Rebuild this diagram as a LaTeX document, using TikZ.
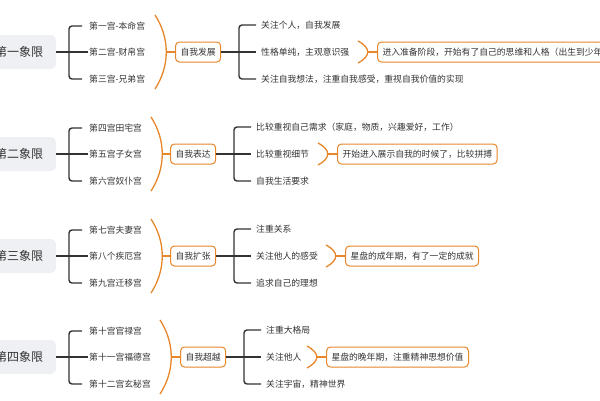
\documentclass[tikz,border=0pt]{standalone}
\usepackage{fontspec}
\setmainfont{Noto Sans CJK SC}
\definecolor{orng}{HTML}{E8862A}
\definecolor{ink}{HTML}{333333}
\definecolor{rootgray}{HTML}{EEF0F3}
\tikzset{
  root/.style={fill=rootgray,rounded corners=5pt,minimum width=74pt,minimum height=34pt,font=\fontsize{12}{14}\selectfont,text=ink},
  leaf/.style={anchor=west,inner sep=1pt,font=\fontsize{8.8}{10}\selectfont,text=ink},
  obox/.style={draw=orng,line width=1pt,rounded corners=4pt,fill=white,anchor=west,inner xsep=5pt,minimum height=20pt,font=\fontsize{8.8}{10}\selectfont,text=ink},
  dark/.style={draw=ink,line width=1.4pt},
  orngline/.style={draw=orng,line width=1.3pt}
}
\begin{document}
\begin{tikzpicture}[x=1pt,y=-1pt]
\useasboundingbox (0,0) rectangle (600,400);
\clip (0,0) rectangle (600,400);
\foreach \y/\nm/\pa/\pb/\pc/\ax/\bx/\bl/\ia/\ib/\ic/\px/\note [count=\i] in {
  52/第一象限/第一宫-本命宫/第二宫-财帛宫/第三宫-兄弟宫/155/175/自我发展/关注个人，自我发展/性格单纯，主观意识强/关注自我想法，注重自我感受，重视自我价值的实现/358/进入准备阶段，开始有了自己的思维和人格（出生到少年时期）,
  154/第二象限/第四宫田宅宫/第五宫子女宫/第六宫奴仆宫/151/170/自我表达/比较重视自己需求（家庭，物质，兴趣爱好，工作）/比较重视细节/自我生活要求/318/开始进入展示自我的时候了，比较拼搏,
  256/第三象限/第七宫夫妻宫/第八个疾厄宫/第九宫迁移宫/151/170/自我扩张/注重关系/关注他人的感受/追求自己的理想/326/星盘的成年期，有了一定的成就,
  357/第四象限/第十宫官禄宫/第十一宫福德宫/第十二宫玄秘宫/160/180/自我超越/注重大格局/关注他人/关注宇宙，精神世界/307/星盘的晚年期，注重精神思想价值}
{
  \node[root] (r\i) at (19,\y) {\nm};
  \node[leaf] (pa\i) at (88,\y-26) {\pa};
  \node[leaf] (pb\i) at (88,\y) {\pb};
  \node[leaf] (pc\i) at (88,\y+27) {\pc};
  \draw[dark] (56,\y) -- (pb\i.west);
  \draw[dark,rounded corners=3pt] ([xshift=-6pt]pa\i.west) -- (69,\y-26) -- (69,\y+27) -- ([xshift=-6pt]pc\i.west);
  \draw[orngline] (\ax,\y-37) .. controls (\ax+15,\y-14) and (\ax+15,\y+14) .. (\ax,\y+37);
  \node[obox] (b\i) at (\bx,\y) {\bl};
  \draw[orngline] (\ax+11,\y) -- (b\i.west);
  \node[leaf] (ia\i) at (\bx+85,\y-27) {\ia};
  \node[leaf] (ib\i) at (\bx+85,\y) {\ib};
  \node[leaf] (ic\i) at (\bx+85,\y+27) {\ic};
  \draw[dark] (b\i.east) -- ([xshift=-4pt]ib\i.west);
  \draw[dark,rounded corners=3pt] ([xshift=-4pt]ia\i.west) -- (\bx+64,\y-27) -- (\bx+64,\y+27) -- ([xshift=-4pt]ic\i.west);
  \draw[orngline] (\px,\y-11) .. controls (\px+13,\y-4) and (\px+13,\y+4) .. (\px,\y+11);
  \node[obox] (n\i) at (\px+19,\y) {\note};
  \draw[orngline] (\px+10,\y) -- (n\i.west);
}
\end{tikzpicture}
\end{document}
